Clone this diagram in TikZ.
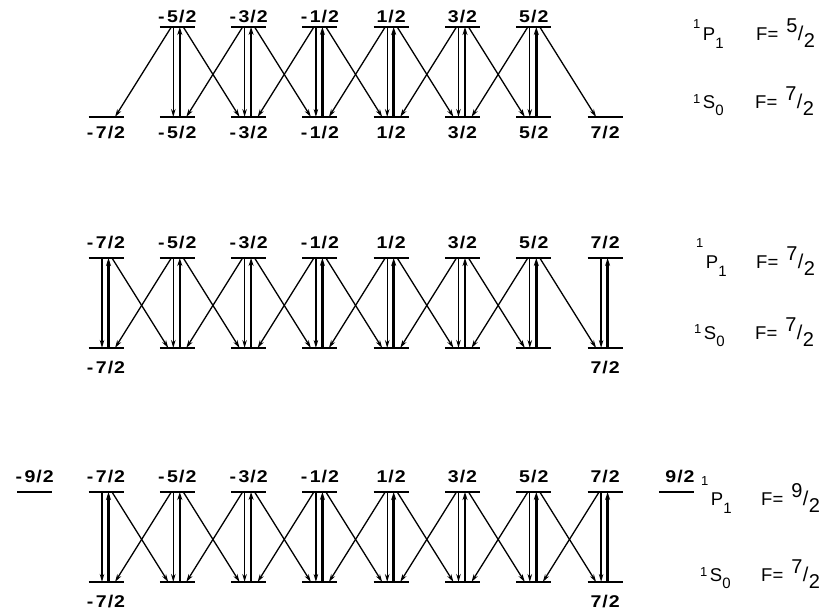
\documentclass[tikz,border=0pt]{standalone}
\usepackage{fontspec}
\setmainfont{Liberation Sans}
\newfontfamily\lblfont[FakeStretch=1.15]{Liberation Sans}
\usetikzlibrary{arrows.meta}
% level label text for column k (m = (2k-7)/2)
\newcommand\mlab[1]{\pgfmathtruncatemacro\nn{abs(2*(#1)-7)}\ifnum#1<4 -\kern2.5pt\fi\nn\kern1pt/\kern1pt2}
% term symbol: raise of superscript, letter, lowering of subscript, subscript
\newcommand\termsym[4]{\raisebox{#1}{\fontsize{13}{13}\selectfont 1}\kern2.5pt#2\raisebox{-#3}{\fontsize{15}{15}\selectfont #4}}
\newcommand\fval[1]{F=\kern8pt{\fontsize{20}{20}\selectfont\raisebox{8pt}{#1}\kern0.5pt/\kern0.5pt\raisebox{-7pt}{2}}}
\newcommand\vpair[2]{%
  \draw[dnarr] ([xshift=-4pt]#1u#2) -- ([xshift=-4pt]#1l#2);
  \draw[uparr] ([xshift=2.5pt]#1l#2) -- ([xshift=2.5pt]#1u#2);}
\newcommand\dleft[2]{\pgfmathtruncatemacro\kk{#2-1}%
  \draw[dgarr] ([xshift=-6pt]#1u#2) -- ([xshift=9pt]#1l\kk);}
\newcommand\dright[2]{\pgfmathtruncatemacro\kk{#2+1}%
  \draw[dgarr] ([xshift=6pt]#1u#2) -- ([xshift=-9pt]#1l\kk);}
\newcommand\lev[2]{\draw[levline] ([xshift=-17.5pt]#1#2) -- ([xshift=17.5pt]#1#2);}
\begin{document}
\begin{tikzpicture}[x=1pt,y=-1pt,
  levline/.style={line width=2.2pt},
  dnarr/.style={line width=1.3pt,-{Stealth[length=8pt,width=4.5pt]}},
  uparr/.style={line width=2.5pt,-{Stealth[length=8pt,width=5pt]}},
  dgarr/.style={line width=1.3pt,-{Stealth[length=8pt,width=4.5pt]}},
  num/.style={font=\lblfont\bfseries\fontsize{17}{17}\selectfont,inner sep=0pt,anchor=base},
  term/.style={font=\fontsize{18.5}{18.5}\selectfont,inner sep=0pt,anchor=base west}]
\useasboundingbox (0,0) rectangle (831,613);
\fill[white] (0,0) rectangle (831,613);
% coordinates of all levels
\foreach \p/\yu/\yl in {A/27/117,B/258/348,C/492/582}{
  \foreach \k in {-1,...,8}{
    \coordinate (\p u\k) at ({106+71.3*\k},\yu);
    \coordinate (\p l\k) at ({106+71.3*\k},\yl);
  }
}
% ---------- panel A: 1P1 F=5/2 -> 1S0 F=7/2
\foreach \k in {1,...,6}{\lev{Au}{\k}}
\foreach \k in {0,...,7}{\lev{Al}{\k}}
\foreach \k in {1,...,6}{\vpair{A}{\k}\dleft{A}{\k}\dright{A}{\k}}
\foreach \k in {1,...,6}{\node[num] (Aut\k) at ({106+71.3*\k},22.5) {\mlab{\k}};}
\foreach \k in {0,...,7}{\node[num] (Alt\k) at ({106+71.3*\k},138) {\mlab{\k}};}
\node[term] (AP) at (693,40) {\termsym{12pt}{P}{8pt}{1}};
\node[term] (AF) at (756,40) {\fval{5}};
\node[term] (AS) at (693,108) {\termsym{5pt}{S}{7pt}{0}};
\node[term] (ASF) at (755,108) {\fval{7}};
% ---------- panel B: 1P1 F=7/2 -> 1S0 F=7/2
\foreach \k in {0,...,7}{\lev{Bu}{\k}\lev{Bl}{\k}\vpair{B}{\k}}
\foreach \k in {1,...,6}{\dleft{B}{\k}}
\foreach \k in {0,...,6}{\dright{B}{\k}}
\foreach \k in {0,...,7}{\node[num] (But\k) at ({106+71.3*\k},248) {\mlab{\k}};}
\node[num] (Blt0) at (106,373) {\mlab{0}};
\node[num] (Blt7) at (605.1,373) {\mlab{7}};
\node[term] (BP) at (696,268) {\termsym{21pt}{P}{8pt}{1}};
\node[term] (BF) at (756,268) {\fval{7}};
\node[term] (BS) at (694,339) {\termsym{6pt}{S}{7pt}{0}};
\node[term] (BSF) at (755,339) {\fval{7}};
% ---------- panel C: 1P1 F=9/2 -> 1S0 F=7/2
\foreach \k in {-1,...,8}{\lev{Cu}{\k}}
\foreach \k in {0,...,7}{\lev{Cl}{\k}\vpair{C}{\k}}
\foreach \k in {1,...,7}{\dleft{C}{\k}}
\foreach \k in {0,...,6}{\dright{C}{\k}}
\foreach \k in {-1,...,7}{\node[num] (Cut\k) at ({106+71.3*\k},482) {\mlab{\k}};}
\node[num] (Cut8) at (680,482) {\mlab{8}};
\node[num] (Clt0) at (106,607) {\mlab{0}};
\node[num] (Clt7) at (605.1,607) {\mlab{7}};
\node[term] (CP) at (701,505) {\termsym{20pt}{P}{8pt}{1}};
\node[term] (CF) at (761,505) {\fval{9}};
\node[term] (CS) at (700,581) {\termsym{5pt}{S}{7pt}{0}};
\node[term] (CSF) at (761,581) {\fval{7}};
\end{tikzpicture}
\end{document}
